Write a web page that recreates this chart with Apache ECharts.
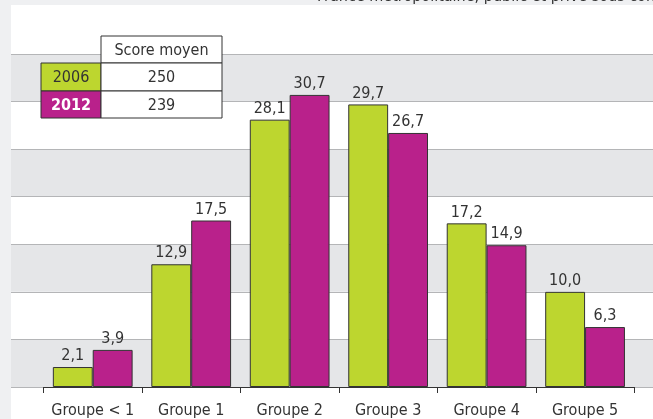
<!DOCTYPE html>
<html><head><meta charset="utf-8">
<script src="https://cdn.jsdelivr.net/npm/echarts@6/dist/echarts.min.js"></script>
<style>
html,body{margin:0;padding:0;background:#eff0f2;}
#panel{position:absolute;left:11px;top:5px;width:642px;height:414px;background:#fff;}
#c{position:absolute;left:0;top:0;width:653px;height:419px;}
</style></head>
<body>
<div id="panel"></div>
<div id="c"></div>
<script>
const categories = ['Groupe < 1','Groupe 1','Groupe 2','Groupe 3','Groupe 4','Groupe 5'];
const values2006 = [2.1, 12.9, 28.1, 29.7, 17.2, 10.0];
const values2012 = [3.9, 17.5, 30.7, 26.7, 14.9, 6.3];
const years = ['2006','2012'];
const scores = ['250','239'];
const tableHeader = 'Score moyen';
const subtitle = 'France métropolitaine, public et privé sous contrat';

const FONT = "'Liberation Sans Narrow','DejaVu Sans Condensed',Roboto,sans-serif";
const GREEN = '#bdd62f';
const MAGENTA = '#b9218b';
const fmt = v => v.toFixed(1).replace('.', ',');

const chart = echarts.init(document.getElementById('c'), null, {renderer:'canvas'});

const labelCfg = {show:true, position:'top', distance:3, color:'#333', fontSize:16, fontFamily:FONT,
  formatter: p => fmt(p.value)};

const tx0 = 41, tx1 = 101, tx2 = 222, ty0 = 36, ty1 = 63, ty2 = 91, ty3 = 118;
const rowColors = [GREEN, MAGENTA];
const rowTextColors = ['#333', '#fff'];
const rowWeights = ['normal', 'bold'];
const graphics = [];
// subtitle, partly hidden behind the white panel's top edge
graphics.push({type:'text', x:317, y:5, style:{text:subtitle, fill:'#333', font:'16px '+FONT, textAlign:'left', textVerticalAlign:'bottom'}, z:40});
graphics.push({type:'rect', shape:{x:11, y:5, width:642, height:48}, style:{fill:'#fff'}, z:50, silent:true});
graphics.push({type:'rect', shape:{x:tx1, y:ty0, width:tx2-tx1, height:ty1-ty0},
  style:{fill:'#fff', stroke:'#333', lineWidth:1}, z:100});
graphics.push({type:'text', x:(tx1+tx2)/2, y:(ty0+ty1)/2+1, style:{text:tableHeader, fill:'#333', font:'16px '+FONT, textAlign:'center', textVerticalAlign:'middle'}, z:101});
const rowY = [[ty1,ty2],[ty2,ty3]];
years.forEach((yr,i)=>{
  const [a,b] = rowY[i];
  graphics.push({type:'rect', shape:{x:tx0, y:a, width:tx1-tx0, height:b-a}, style:{fill:rowColors[i], stroke:'#333', lineWidth:1}, z:100});
  graphics.push({type:'rect', shape:{x:tx1, y:a, width:tx2-tx1, height:b-a}, style:{fill:'#fff', stroke:'#333', lineWidth:1}, z:100});
  graphics.push({type:'text', x:(tx0+tx1)/2, y:(a+b)/2+1, style:{text:yr, fill:rowTextColors[i], font:rowWeights[i]+' 16px '+FONT, textAlign:'center', textVerticalAlign:'middle'}, z:101});
  graphics.push({type:'text', x:(tx1+tx2)/2, y:(a+b)/2+1, style:{text:scores[i], fill:'#333', font:'16px '+FONT, textAlign:'center', textVerticalAlign:'middle'}, z:101});
});

chart.setOption({
  animation:false,
  backgroundColor:'transparent',
  grid:[
    {left:11, right:0, top:54, bottom:32},
    {left:43.5, right:18.7, top:54, bottom:32}
  ],
  xAxis:[
    {gridIndex:0, type:'category', data:categories, show:false},
    {gridIndex:1, type:'category', data:categories,
      axisLine:{lineStyle:{color:'#333', width:1}},
      axisTick:{show:true, length:6, lineStyle:{color:'#333'}},
      axisLabel:{color:'#333', fontSize:16, fontFamily:FONT, margin:16, interval:0},
      splitLine:{show:false}}
  ],
  yAxis:[
    {gridIndex:0, type:'value', min:0, max:35, interval:5,
      axisLine:{show:false}, axisTick:{show:false}, axisLabel:{show:false},
      splitLine:{show:true, lineStyle:{color:'#b4b5b7', width:1}},
      splitArea:{show:true, areaStyle:{color:['#e5e6e8','#ffffff']}}},
    {gridIndex:1, type:'value', min:0, max:35, interval:5, show:false,
      splitLine:{show:false}}
  ],
  series:[
    {name:years[0], type:'bar', xAxisIndex:1, yAxisIndex:1, data:values2006,
      barGap:'0%', barCategoryGap:'19%',
      itemStyle:{color:GREEN, borderColor:'#333', borderWidth:1}, label:labelCfg},
    {name:years[1], type:'bar', xAxisIndex:1, yAxisIndex:1, data:values2012,
      barGap:'0%', barCategoryGap:'19%',
      itemStyle:{color:MAGENTA, borderColor:'#333', borderWidth:1}, label:labelCfg}
  ],
  graphic:graphics
});
</script>
</body></html>
